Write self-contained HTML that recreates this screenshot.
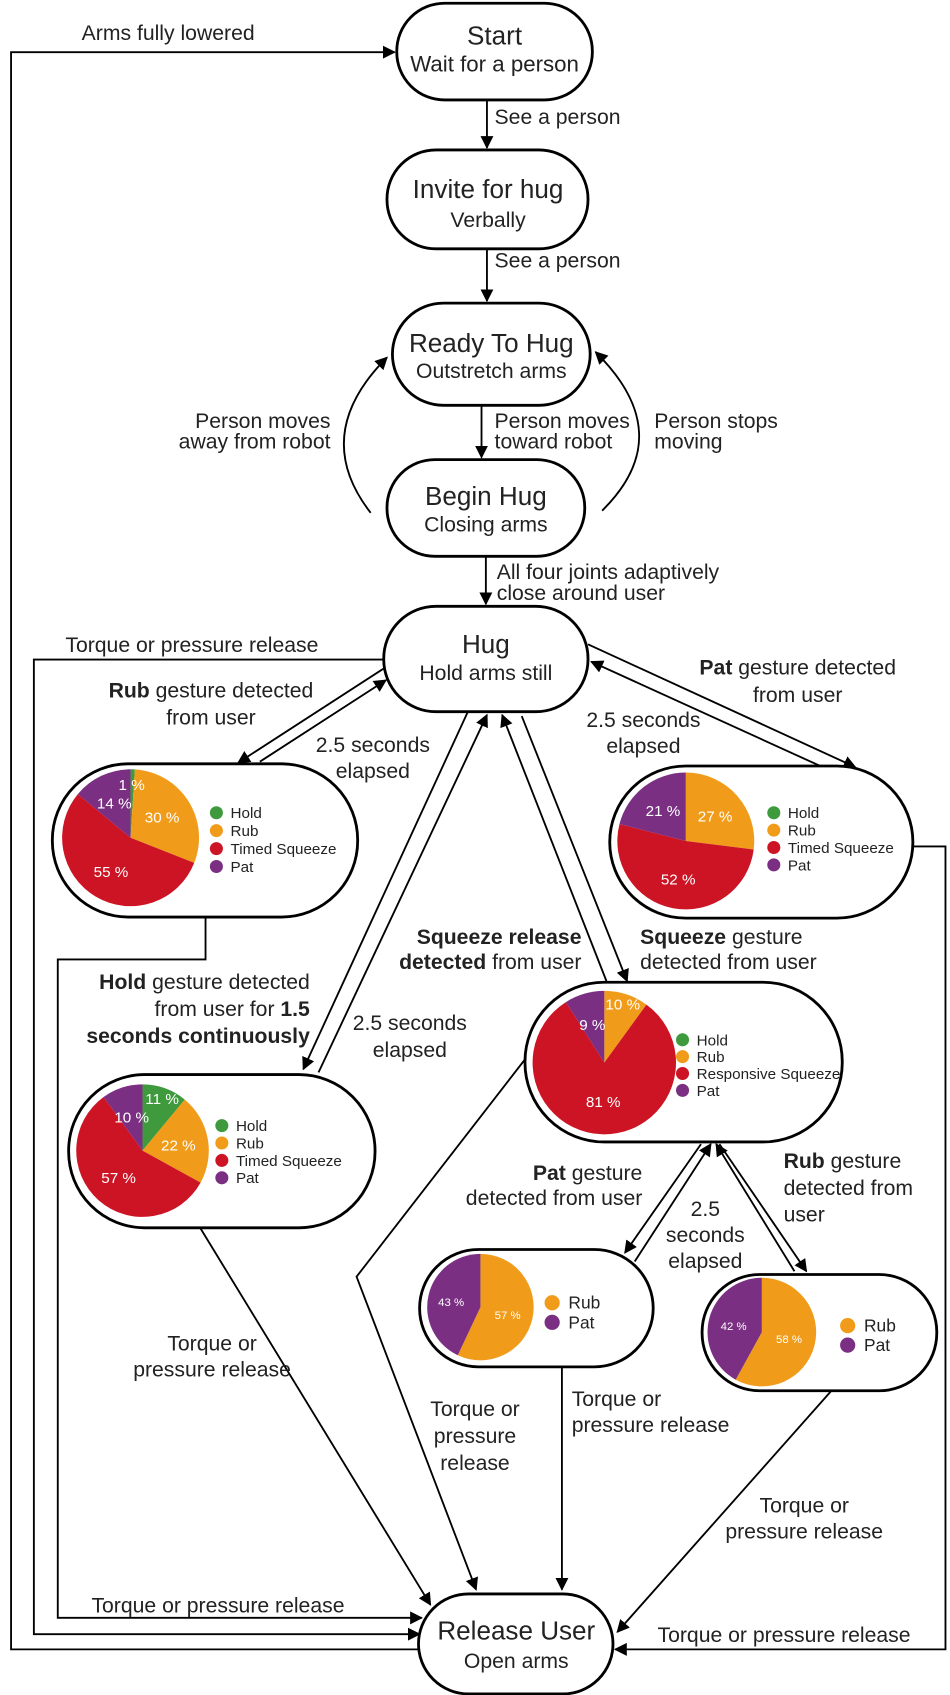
<!DOCTYPE html>
<html><head><meta charset="utf-8"><style>
html,body{margin:0;padding:0;background:#fff;}
svg{display:block;}
text{font-family:"Liberation Sans",sans-serif;fill:#222;}
.l{font-size:19.5px;}
.t{font-size:24px;}
.s{font-size:19.5px;}
.pc{fill:#fff;}
.n{fill:#fff;stroke:#000;stroke-width:2.6;}
.c{fill:none;stroke:#000;stroke-width:1.7;}
</style></head><body>
<svg id="s" width="950" height="1695" viewBox="0 0 874 1560" xmlns="http://www.w3.org/2000/svg">
<defs><marker id="a" viewBox="0 0 10 10" refX="9" refY="5" markerWidth="7" markerHeight="7" orient="auto-start-reverse"><path d="M0,0 L10,5 L0,10 z" fill="#000"/></marker></defs>
<g class="c" marker-end="url(#a)">
<path d="M386,1518 H10 V48 H363"/>
<path d="M448,92 V136"/>
<path d="M448,229 V277"/>
<path d="M443,373 V421"/>
<path d="M341,472 Q285,400 356,329"/>
<path d="M554,470 Q625,400 548,324"/>
<path d="M447,512 V556"/>
<path d="M353,607 H31 V1504 H386"/>
<path d="M355,614 L219,702"/>
<path d="M239,701 L355,626"/>
<path d="M189,844 V883 H53 V1489 H388"/>
<path d="M430,656 L279,984"/>
<path d="M293,987 L448,658"/>
<path d="M184,1130 L396,1477"/>
<path d="M558,903 L462,658"/>
<path d="M480,659 L577,903"/>
<path d="M483,975 L328,1175 L438,1463"/>
<path d="M541,593 L787,706"/>
<path d="M757,706 L544,609"/>
<path d="M840,779 H870 V1518 H566"/>
<path d="M645,1053 L575,1153"/>
<path d="M584,1161 L654,1053"/>
<path d="M662,1053 L742,1170"/>
<path d="M731,1170 L659,1053"/>
<path d="M517,1258 V1463"/>
<path d="M765,1280 L568,1502"/>
</g>
<g id="nodes">
<rect class="n" x="365" y="3" width="180" height="89" rx="44"/>
<rect class="n" x="356" y="138" width="185" height="91" rx="45"/>
<rect class="n" x="361" y="279" width="182" height="94" rx="47"/>
<rect class="n" x="356" y="423" width="182" height="89" rx="44"/>
<rect class="n" x="353" y="558" width="188" height="97" rx="48"/>
<rect class="n" x="48" y="703" width="281" height="141" rx="70"/>
<rect class="n" x="561" y="705" width="279" height="140" rx="70"/>
<rect class="n" x="63" y="989" width="282" height="141" rx="70"/>
<rect class="n" x="483" y="904" width="292" height="147" rx="73"/>
<rect class="n" x="386" y="1150" width="215" height="108" rx="54"/>
<rect class="n" x="646" y="1173" width="216" height="107" rx="53"/>
<rect class="n" x="385" y="1467" width="179" height="92" rx="46"/>
</g>
<g text-anchor="middle">
<text class="t" x="455" y="41">Start</text><text class="s" style="font-size:20.5px" x="455" y="66">Wait for a person</text>
<text class="t" x="449" y="182">Invite for hug</text><text class="s" x="449" y="209">Verbally</text>
<text class="t" x="452" y="324">Ready To Hug</text><text class="s" x="452" y="348">Outstretch arms</text>
<text class="t" x="447" y="465">Begin Hug</text><text class="s" x="447" y="489">Closing arms</text>
<text class="t" x="447" y="601">Hug</text><text class="s" x="447" y="626">Hold arms still</text>
<text class="t" x="475" y="1509">Release User</text><text class="s" x="475" y="1535">Open arms</text>
</g>
<g class="l">
<text x="75" y="37">Arms fully lowered</text>
<text x="455" y="114">See a person</text>
<text x="455" y="246">See a person</text>
<text x="455" y="394">Person moves</text><text x="455" y="413">toward robot</text>
<text x="304" y="394" text-anchor="end">Person moves</text><text x="304" y="413" text-anchor="end">away from robot</text>
<text x="602" y="394">Person stops</text><text x="602" y="413">moving</text>
<text x="457" y="533">All four joints adaptively</text><text x="457" y="552">close around user</text>
<text x="60" y="600">Torque or pressure release</text>
<text x="194" y="642" text-anchor="middle"><tspan font-weight="bold">Rub</tspan> gesture detected</text><text x="194" y="667" text-anchor="middle">from user</text>
<text x="343" y="692" text-anchor="middle">2.5 seconds</text><text x="343" y="716" text-anchor="middle">elapsed</text>
<text x="734" y="621" text-anchor="middle"><tspan font-weight="bold">Pat</tspan> gesture detected</text><text x="734" y="646" text-anchor="middle">from user</text>
<text x="592" y="669" text-anchor="middle">2.5 seconds</text><text x="592" y="693" text-anchor="middle">elapsed</text>
<text x="285" y="910" text-anchor="end"><tspan font-weight="bold">Hold</tspan> gesture detected</text>
<text x="285" y="935" text-anchor="end">from user for <tspan font-weight="bold">1.5</tspan></text>
<text x="285" y="960" text-anchor="end" font-weight="bold">seconds continuously</text>
<text x="377" y="948" text-anchor="middle">2.5 seconds</text><text x="377" y="973" text-anchor="middle">elapsed</text>
<text x="535" y="869" text-anchor="end" font-weight="bold">Squeeze release</text>
<text x="535" y="892" text-anchor="end"><tspan font-weight="bold">detected</tspan> from user</text>
<text x="589" y="869"><tspan font-weight="bold">Squeeze</tspan> gesture</text><text x="589" y="892">detected from user</text>
<text x="591" y="1086" text-anchor="end"><tspan font-weight="bold">Pat</tspan> gesture</text><text x="591" y="1109" text-anchor="end">detected from user</text>
<text x="649" y="1119" text-anchor="middle">2.5</text><text x="649" y="1143" text-anchor="middle">seconds</text><text x="649" y="1167" text-anchor="middle">elapsed</text>
<text x="721" y="1075"><tspan font-weight="bold">Rub</tspan> gesture</text><text x="721" y="1100">detected from</text><text x="721" y="1124">user</text>
<text x="195" y="1243" text-anchor="middle">Torque or</text><text x="195" y="1267" text-anchor="middle">pressure release</text>
<text x="437" y="1303" text-anchor="middle">Torque or</text><text x="437" y="1328" text-anchor="middle">pressure</text><text x="437" y="1353" text-anchor="middle">release</text>
<text x="526" y="1294">Torque or</text><text x="526" y="1318">pressure release</text>
<text x="740" y="1392" text-anchor="middle">Torque or</text><text x="740" y="1416" text-anchor="middle">pressure release</text>
<text x="84" y="1484">Torque or pressure release</text>
<text x="605" y="1511">Torque or pressure release</text>
</g>
<g id="pies"></g>
</svg>
<script>
var G='#3e9a3c',O='#f09c1a',R='#cc1424',P='#7a2f82';
var pies=[
 {cx:120,cy:771,r:63,fs:14,s:[[1,G,'1 %',121,727],[30,O,'30 %',149,757],[55,R,'55 %',102,807],[14,P,'14 %',105,744]],lx:199,ly:748,dy:16.5,lab:['Hold','Rub','Timed Squeeze','Pat'],lc:[G,O,R,P]},
 {cx:631,cy:774,r:63,fs:14,s:[[27,O,'27 %',658,756],[52,R,'52 %',624,814],[21,P,'21 %',610,751]],lx:712,ly:748,dy:16,lab:['Hold','Rub','Timed Squeeze','Pat'],lc:[G,O,R,P]},
 {cx:131,cy:1059,r:61,fs:14,s:[[11,G,'11 %',149,1016],[22,O,'22 %',164,1059],[57,R,'57 %',109,1089],[10,P,'10 %',121,1033]],lx:204,ly:1036,dy:16,lab:['Hold','Rub','Timed Squeeze','Pat'],lc:[G,O,R,P]},
 {cx:556,cy:978,r:66,fs:14,s:[[10,O,'10 %',573,929],[81,R,'81 %',555,1019],[9,P,'9 %',545,948]],lx:628,ly:957,dy:15.5,lab:['Hold','Rub','Responsive Squeeze','Pat'],lc:[G,O,R,P]},
 {cx:442,cy:1203,r:49,fs:10.5,s:[[57,O,'57 %',467,1214],[43,P,'43 %',415,1202]],lx:508,ly:1199,dy:18,lab:['Rub','Pat'],lc:[O,P],sm:1},
 {cx:701,cy:1226,r:50,fs:10.5,s:[[58,O,'58 %',726,1236],[42,P,'42 %',675,1224]],lx:780,ly:1220,dy:18,lab:['Rub','Pat'],lc:[O,P],sm:1}
];
var g=document.getElementById('pies'),h='';
pies.forEach(function(p){
 var a=0;
 p.s.forEach(function(q){
  var a0=a*3.6*Math.PI/180; a+=q[0]; var a1=a*3.6*Math.PI/180;
  var x0=p.cx+p.r*Math.sin(a0),y0=p.cy-p.r*Math.cos(a0),x1=p.cx+p.r*Math.sin(a1),y1=p.cy-p.r*Math.cos(a1);
  var big=(a1-a0)>Math.PI?1:0;
  h+='<path d="M'+p.cx+','+p.cy+' L'+x0+','+y0+' A'+p.r+','+p.r+' 0 '+big+' 1 '+x1+','+y1+' Z" fill="'+q[1]+'"/>';
 });
 p.s.forEach(function(q){
  h+='<text class="pc" text-anchor="middle" style="font-size:'+p.fs+'px" x="'+q[3]+'" y="'+q[4]+'">'+q[2]+'</text>';
 });
 p.lab.forEach(function(t,i){
  var y=p.ly+i*p.dy;
  h+='<circle cx="'+p.lx+'" cy="'+y+'" r="'+(p.sm?7:6)+'" fill="'+p.lc[i]+'"/>';
  h+='<text style="font-size:'+(p.sm?16:14)+'px" x="'+(p.lx+(p.sm?15:13))+'" y="'+(y+(p.sm?5.5:5))+'">'+t+'</text>';
 });
});
g.innerHTML=h;
</script>
</body></html>
